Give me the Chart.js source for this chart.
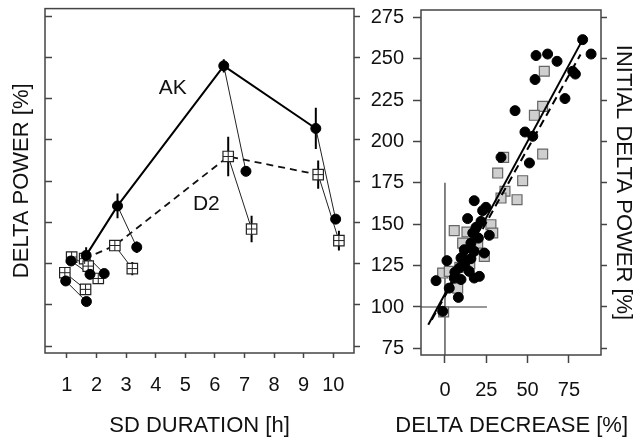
<!DOCTYPE html>
<html><head><meta charset="utf-8">
<script src="https://cdn.jsdelivr.net/npm/chart.js@4.4.1/dist/chart.umd.min.js"></script>
<style>
html,body{margin:0;padding:0;background:#fff;}
#wrap{position:relative;width:636px;height:443px;overflow:hidden;}
canvas{position:absolute;left:0;top:0;}
</style></head><body>
<div id="wrap"><canvas id="c1" width="636" height="443"></canvas><canvas id="c2" width="636" height="443"></canvas></div>
<script>
// ---------- data ----------
const sdTicks = [1, 2, 3, 4, 5, 6, 7, 8, 9, 10];
const powerTicks = [75, 100, 125, 150, 175, 200, 225, 250, 275];
const decreaseTicks = [0, 25, 50, 75];

// left panel: AK (filled circles) – SD end values and later values
const akSdX   = [0.96, 1.14, 1.65, 2.71, 6.30, 9.41];
const akSdY   = [114.5, 126.6, 130, 160, 245, 207];
const akSdErr = [2, 2.5, 5, 7.5, 4, 12.5];
const akLaterX   = [1.66, 1.78, 2.26, 3.36, 7.05, 10.08];
const akLaterY   = [102, 118.5, 119, 135, 181, 152];
const akLaterErr = [2, 2, 2, 3.5, 2.5, 2.5];
const akMainIdx  = [2, 3, 4, 5];

// left panel: D2 (crossed squares)
const d2SdX   = [0.93, 1.16, 1.60, 2.62, 6.45, 9.49];
const d2SdY   = [119.5, 129, 128, 136, 190, 179];
const d2SdErr = [2, 2, 3, 3, 12, 8.5];
const d2LaterX   = [1.63, 1.72, 2.06, 3.21, 7.24, 10.19];
const d2LaterY   = [109.4, 123.5, 116, 122, 146, 139];
const d2LaterErr = [3, 2, 2, 4, 8, 6];
const d2MainIdx  = [2, 3, 4, 5];

const seriesNames = ['AK', 'D2'];
const seriesLabelX = [4.58, 5.71];
const seriesLabelY = [231.5, 161.1];

// right panel: delta decrease vs initial delta power
const akDecrease = [83.3, 88.4, 55.1, 62.1, 67.8, 77.3, 78.9, 54.5, 72.6, 42.4, 48.4, 53.1, 51.1, 33.9,
  17.7, 24.8, 22.8, 13.7, 21.8, 18.8, 26.8, 16.8, 20.2, 15.7, 23.8, 17.7, 11.7, 9.7, 15.7, 1.2,
  8.7, 14.7, 20.8, 17.7, -5.4, 5.6, 9.7, 2.6, 8.1, -1.4, 12.0, 6.0];
const akInitial = [261.5, 252.8, 251.9, 252.8, 248.4, 242.4, 240.7, 237.4, 225.9, 218.6, 205.7, 203.1, 187.0, 190.4,
  164.2, 160.2, 158.2, 153.4, 151.7, 148.1, 143.3, 144.7, 141.6, 138.6, 132.6, 133.6, 134.6, 129.6, 129.2, 128.0,
  123.5, 121.5, 118.5, 117.5, 115.9, 117.5, 116.6, 111.4, 105.8, 97.4, 125.0, 121.0];
const d2Decrease = [60.1, 59.1, 54.1, 59.1, 35.5, 31.9, 47.0, 36.3, 33.9, 43.6, 5.6, 13.3, 27.8, 10.7,
  19.8, 23.8, -1.4, 2.6, 7.7, -0.8, 12.0, 15.0, 9.0, 28.9];
const d2Initial = [242.4, 221.2, 215.8, 192.4, 190.4, 180.9, 176.3, 169.9, 165.8, 164.8, 146.1, 145.3, 149.7, 138.6,
  138.6, 130.6, 120.5, 121.5, 111.4, 97.0, 130.0, 126.0, 124.0, 144.7];
const akFitX = [-10.1, 83.3];
const akFitY = [89.3, 261.5];
const d2FitX = [-8.0, 82.0];
const d2FitY = [92.3, 252.5];
const crossVX = [0, 0];
const crossVY = [71, 175];
const crossHX = [-14.5, 25.4];
const crossHY = [100, 100];

// ---------- helpers ----------
const FONT = '"Liberation Sans", Arial, Helvetica, sans-serif';
Chart.defaults.font.family = FONT;
Chart.defaults.color = '#111';

const pts = (xs, ys) => xs.map((x, i) => ({x, y: ys[i]}));
const errSegs = (xs, ys, es) => {
  const out = [];
  xs.forEach((x, i) => { out.push({x, y: ys[i] - es[i]}, {x, y: ys[i] + es[i]}, {x, y: null}); });
  return out;
};
const links = (x0, y0, x1, y1) => {
  const out = [];
  x0.forEach((x, i) => { out.push({x, y: y0[i]}, {x: x1[i], y: y1[i]}, {x: x1[i], y: null}); });
  return out;
};
const pick = (xs, ys, idx) => idx.map(i => ({x: xs[i], y: ys[i]}));
const fixSize = (prop, val) => (s) => {
  s[prop] = val; s.paddingTop = 0; s.paddingBottom = 0; s.paddingLeft = 0; s.paddingRight = 0;
};
const setTicks = (arr) => (s) => { s.ticks = arr.map(v => ({value: v})); };
const lineDs = (data, color, width, dash) => ({
  data, showLine: true, borderColor: color, borderWidth: width, borderDash: dash || [],
  pointRadius: 0, pointHoverRadius: 0, tension: 0, spanGaps: false, fill: false
});

const framePlugin = {
  id: 'frame',
  afterDatasetsDraw(chart) {
    const {ctx, chartArea: a} = chart;
    ctx.save();
    ctx.strokeStyle = '#444';
    ctx.lineWidth = 1.5;
    ctx.strokeRect(a.left, a.top, a.right - a.left, a.bottom - a.top);
    ctx.restore();
  }
};
const seriesTextPlugin = {
  id: 'seriesText',
  afterDatasetsDraw(chart) {
    const {ctx} = chart;
    const xs = chart.scales.x, ys = chart.scales.y;
    ctx.save();
    ctx.font = '21px ' + FONT;
    ctx.fillStyle = '#111';
    ctx.textAlign = 'center';
    ctx.textBaseline = 'middle';
    seriesNames.forEach((n, i) => ctx.fillText(n, xs.getPixelForValue(seriesLabelX[i]), ys.getPixelForValue(seriesLabelY[i])));
    ctx.restore();
  }
};

const noEvents = {responsive: false, animation: false, events: []};

// ---------- left chart ----------
new Chart(document.getElementById('c1'), {
  type: 'scatter',
  data: {
    datasets: [
      {data: pts(akSdX, akSdY).concat(pts(akLaterX, akLaterY)), pointStyle: 'circle', pointRadius: 5,
       backgroundColor: '#000', borderColor: '#000', borderWidth: 1},
      {data: pts(d2SdX, d2SdY).concat(pts(d2LaterX, d2LaterY)), pointStyle: 'cross', pointRadius: 5.2,
       borderColor: '#222', borderWidth: 1, backgroundColor: '#fff'},
      {data: pts(d2SdX, d2SdY).concat(pts(d2LaterX, d2LaterY)), pointStyle: 'rect', pointRadius: 7.4,
       backgroundColor: '#fff', borderColor: '#222', borderWidth: 1.2},
      lineDs(errSegs(akSdX, akSdY, akSdErr).concat(errSegs(akLaterX, akLaterY, akLaterErr)), '#000', 2),
      lineDs(errSegs(d2SdX, d2SdY, d2SdErr).concat(errSegs(d2LaterX, d2LaterY, d2LaterErr)), '#000', 2),
      lineDs(pick(akSdX, akSdY, akMainIdx), '#000', 2),
      lineDs(pick(d2SdX, d2SdY, d2MainIdx), '#111', 1.8, [7, 5]),
      lineDs(links(akSdX, akSdY, akLaterX, akLaterY), '#222', 1),
      lineDs(links(d2SdX, d2SdY, d2LaterX, d2LaterY), '#222', 1)
    ]
  },
  options: Object.assign({}, noEvents, {
    plugins: {legend: {display: false}, tooltip: {enabled: false}},
    layout: {padding: {left: 0, top: 7, right: 274, bottom: 0}},
    scales: {
      x: {
        type: 'linear', position: 'bottom', min: 0.26, max: 10.7,
        afterBuildTicks: setTicks(sdTicks), afterFit: fixSize('height', 90),
        grid: {drawOnChartArea: false, drawTicks: true, tickLength: 5, tickWidth: 1.5, tickColor: '#444'},
        border: {display: false},
        ticks: {padding: 15.5, font: {size: 20}, color: '#111', maxRotation: 0, autoSkip: false},
        title: {display: true, text: 'SD DURATION [h]', font: {size: 22}, color: '#111', padding: {top: 0, bottom: 4}}
      },
      y: {
        type: 'linear', position: 'left', min: 70.8, max: 279.7,
        afterBuildTicks: setTicks(powerTicks), afterFit: fixSize('width', 45),
        grid: {drawOnChartArea: false, drawTicks: true, tickLength: -7, tickWidth: 1.5, tickColor: '#444'},
        border: {display: false},
        ticks: {display: false},
        title: {display: true, text: 'DELTA POWER [%]', font: {size: 22}, color: '#111', padding: {top: 9, bottom: 0}}
      },
      y2: {
        type: 'linear', position: 'right', min: 70.8, max: 279.7,
        afterBuildTicks: setTicks(powerTicks), afterFit: fixSize('width', 8),
        grid: {drawOnChartArea: false, drawTicks: true, tickLength: 6, tickWidth: 1.5, tickColor: '#444'},
        border: {display: false},
        ticks: {display: false}
      }
    }
  }),
  plugins: [framePlugin, seriesTextPlugin]
});

// ---------- right chart ----------
new Chart(document.getElementById('c2'), {
  type: 'scatter',
  data: {
    datasets: [
      lineDs(pts(akFitX, akFitY), '#000', 2),
      lineDs(pts(d2FitX, d2FitY), '#000', 2, [8, 5]),
      {data: pts(akDecrease, akInitial), pointStyle: 'circle', pointRadius: 5,
       backgroundColor: '#000', borderColor: '#000', borderWidth: 1},
      {data: pts(d2Decrease, d2Initial), pointStyle: 'rect', pointRadius: 7,
       backgroundColor: '#cfcfcf', borderColor: '#666', borderWidth: 1.2},
      lineDs(pts(crossVX, crossVY), '#333', 1.2),
      lineDs(pts(crossHX, crossHY), '#333', 1.2)
    ]
  },
  options: Object.assign({}, noEvents, {
    plugins: {
      legend: {display: false}, tooltip: {enabled: false},
      title: {display: true, position: 'bottom', align: 'end', text: 'DELTA DECREASE [%]',
              font: {size: 22, weight: 'normal'}, color: '#111', padding: {top: 0, bottom: 3.8}}
    },
    layout: {padding: {left: 0, top: 10, right: 8, bottom: 0}},
    scales: {
      x: {
        type: 'linear', position: 'bottom', min: -14.5, max: 94.4,
        afterBuildTicks: setTicks(decreaseTicks), afterFit: fixSize('height', 57.8),
        grid: {drawOnChartArea: false, drawTicks: true, tickLength: 8, tickWidth: 1.5, tickColor: '#444'},
        border: {display: false},
        ticks: {padding: 15.5, font: {size: 20}, color: '#111', maxRotation: 0, autoSkip: false}
      },
      y: {
        type: 'linear', position: 'left', min: 71, max: 279.4,
        afterBuildTicks: setTicks(powerTicks), afterFit: fixSize('width', 421),
        grid: {drawOnChartArea: false, drawTicks: true, tickLength: 8, tickWidth: 1.5, tickColor: '#444'},
        border: {display: false},
        ticks: {padding: 9, font: {size: 20}, color: '#111', autoSkip: false}
      },
      y2: {
        type: 'linear', position: 'right', min: 71, max: 279.4,
        afterBuildTicks: setTicks(powerTicks), afterFit: fixSize('width', 27),
        grid: {drawOnChartArea: false, drawTicks: true, tickLength: 6, tickWidth: 1.5, tickColor: '#444'},
        border: {display: false},
        ticks: {display: false},
        title: {display: true, text: 'INITIAL DELTA POWER [%]', font: {size: 22}, color: '#111', padding: {top: -8, bottom: 0}}
      }
    }
  }),
  plugins: [framePlugin]
});
</script>
</body></html>
